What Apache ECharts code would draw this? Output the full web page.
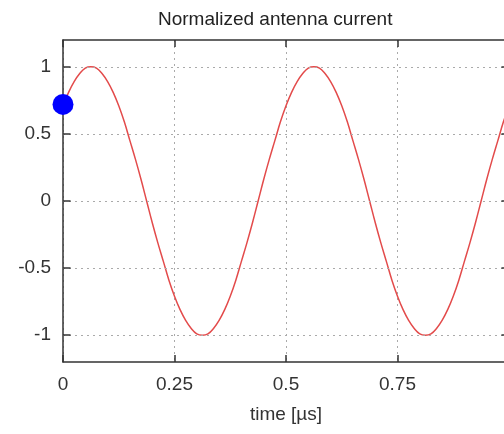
<!DOCTYPE html>
<html>
<head>
<meta charset="utf-8">
<script src="https://cdn.jsdelivr.net/npm/echarts@6/dist/echarts.min.js"></script>
<style>
  html, body { margin: 0; padding: 0; background: #fff; }
  #chart { width: 504px; height: 434px; }
</style>
</head>
<body>
<div id="chart"></div>
<script>
  // time in µs, current
  var time = [
    0, 0.0125, 0.025, 0.0375, 0.05, 0.0625, 0.075, 0.0875, 0.1, 0.1125,
    0.125, 0.1375, 0.15, 0.1625, 0.175, 0.1875, 0.2, 0.2125, 0.225, 0.2375,
    0.25, 0.2625, 0.275, 0.2875, 0.3, 0.3125, 0.325, 0.3375, 0.35, 0.3625,
    0.375, 0.3875, 0.4, 0.4125, 0.425, 0.4375, 0.45, 0.4625, 0.475, 0.4875,
    0.5, 0.5125, 0.525, 0.5375, 0.55, 0.5625, 0.575, 0.5875, 0.6, 0.6125,
    0.625, 0.6375, 0.65, 0.6625, 0.675, 0.6875, 0.7, 0.7125, 0.725, 0.7375,
    0.75, 0.7625, 0.775, 0.7875, 0.8, 0.8125, 0.825, 0.8375, 0.85, 0.8625,
    0.875, 0.8875, 0.9, 0.9125, 0.925, 0.9375, 0.95, 0.9625, 0.975, 0.9875,
    1.0
  ];
  var current = [
    0.71, 0.81, 0.89, 0.95, 0.99, 1, 0.99, 0.95, 0.89, 0.81,
    0.71, 0.59, 0.45, 0.31, 0.16, 0, -0.16, -0.31, -0.45, -0.59,
    -0.71, -0.81, -0.89, -0.95, -0.99, -1, -0.99, -0.95, -0.89, -0.81,
    -0.71, -0.59, -0.45, -0.31, -0.16, 0, 0.16, 0.31, 0.45, 0.59,
    0.71, 0.81, 0.89, 0.95, 0.99, 1, 0.99, 0.95, 0.89, 0.81,
    0.71, 0.59, 0.45, 0.31, 0.16, 0, -0.16, -0.31, -0.45, -0.59,
    -0.71, -0.81, -0.89, -0.95, -0.99, -1, -0.99, -0.95, -0.89, -0.81,
    -0.71, -0.59, -0.45, -0.31, -0.16, 0, 0.16, 0.31, 0.45, 0.59,
    0.71
  ];
  var marker = [[0, 0.72]];
  var yTickVals = [-1, -0.5, 0, 0.5, 1];

  var font = 'Liberation Sans';
  var linePts = time.map(function (t, i) { return [t, current[i]]; });

  var frame = { show: true, onZero: false, lineStyle: { color: '#333', width: 1.5 } };
  var tick = { show: true, inside: true, length: 7, lineStyle: { color: '#333', width: 1.5 } };
  var dotted = { color: '#aaa', type: [2, 4], width: 1 };

  var chart = echarts.init(document.getElementById('chart'));
  chart.setOption({
    animation: false,
    title: {
      text: 'Normalized antenna current',
      left: 153, top: 5,
      textStyle: { fontFamily: font, fontSize: 19, fontWeight: 'normal', color: '#222' }
    },
    grid: { left: 63, top: 40, width: 446, bottom: 72, containLabel: false, outerBoundsMode: 'none' },
    xAxis: [{
      type: 'value', position: 'bottom',
      min: 0, max: 1, interval: 0.25,
      axisLine: frame, axisTick: tick,
      axisLabel: { fontFamily: font, fontSize: 19, color: '#333', margin: 13 },
      splitLine: { show: true, lineStyle: dotted },
      name: 'time [µs]', nameLocation: 'middle', nameGap: 43,
      nameTextStyle: { fontFamily: font, fontSize: 19, color: '#333' }
    }, {
      type: 'value', position: 'top',
      min: 0, max: 1, interval: 0.25,
      axisLine: frame, axisTick: tick,
      axisLabel: { show: false },
      splitLine: { show: false }
    }],
    yAxis: [{
      type: 'value', position: 'left',
      min: -1.2, max: 1.2, interval: 0.1,
      axisLine: frame,
      axisTick: { show: false },
      axisLabel: {
        fontFamily: font, fontSize: 19, color: '#333', margin: 12,
        showMinLabel: false, showMaxLabel: false,
        formatter: function (v) {
          return yTickVals.some(function (t) { return Math.abs(t - v) < 1e-6; })
            ? String(Math.round(v * 2) / 2) : '';
        }
      },
      splitLine: { show: false }
    }, {
      type: 'value', position: 'right',
      min: -1.2, max: 1.2,
      axisLine: frame,
      axisTick: { show: false },
      axisLabel: { show: false },
      splitLine: { show: false }
    }],
    series: [{
      type: 'line',
      data: linePts,
      smooth: 0.4,
      showSymbol: false,
      lineStyle: { color: '#e34b4b', width: 1.5 },
      z: 3
    }, {
      type: 'scatter',
      data: marker,
      symbolSize: 21,
      itemStyle: { color: '#0000ff', opacity: 1 },
      z: 4
    }, {
      // dotted y grid lines
      type: 'line',
      data: [],
      markLine: {
        silent: true, symbol: 'none', label: { show: false },
        lineStyle: dotted,
        data: yTickVals.map(function (v) { return { yAxis: v }; })
      }
    }, {
      // inward ticks on left and right frame
      type: 'line',
      data: [],
      markLine: {
        silent: true, symbol: 'none', label: { show: false },
        lineStyle: { color: '#333', type: 'solid', width: 1.5 },
        data: yTickVals.map(function (v) {
          return [{ coord: [0, v] }, { coord: [0.017, v] }];
        }).concat(yTickVals.map(function (v) {
          return [{ coord: [0.983, v] }, { coord: [1, v] }];
        }))
      },
      z: 5
    }]
  });
</script>
</body>
</html>
